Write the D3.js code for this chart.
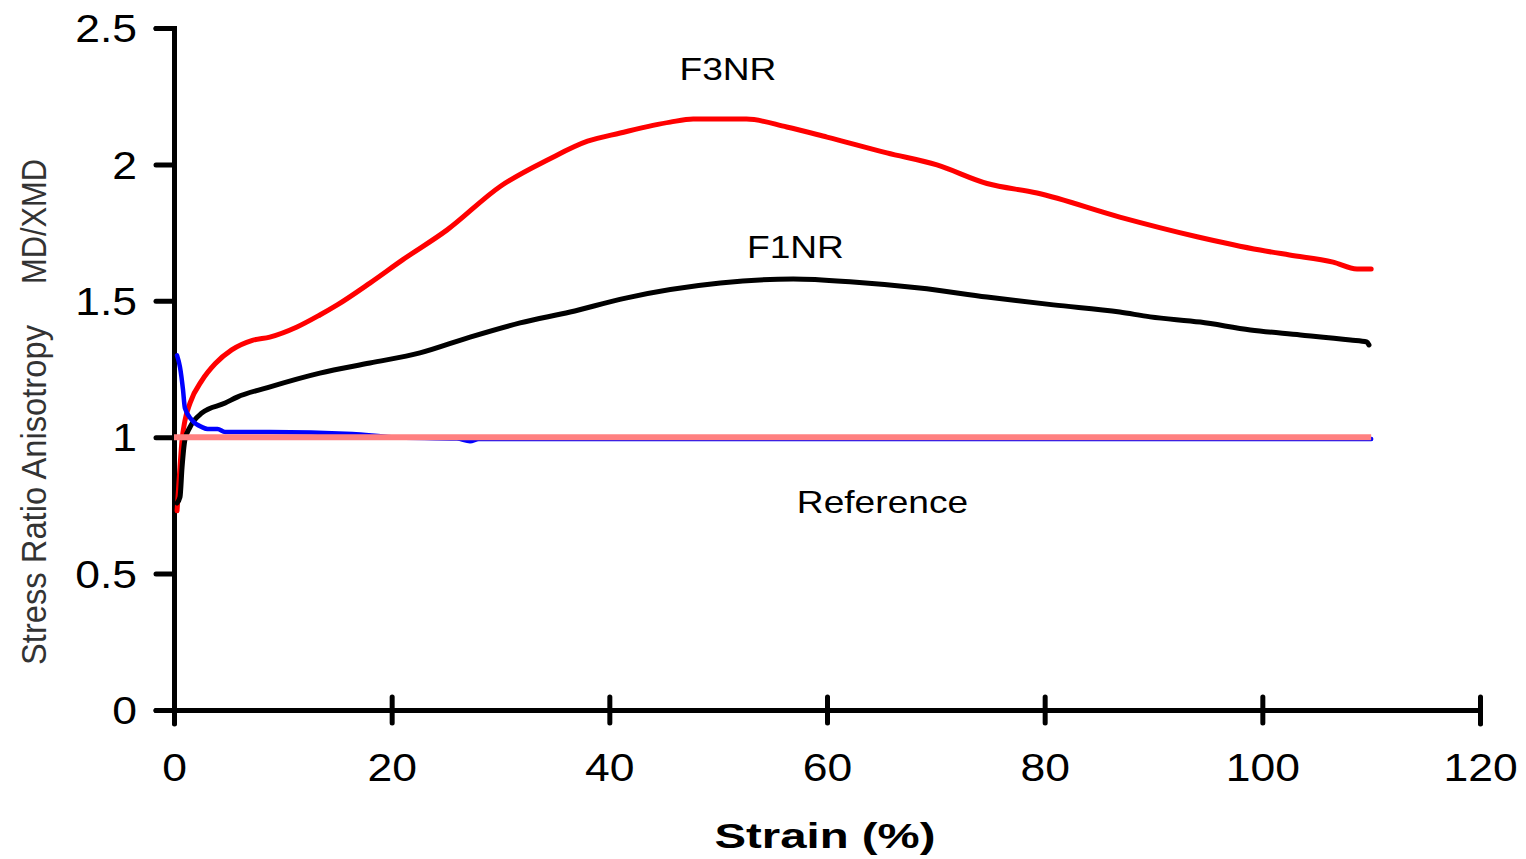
<!doctype html>
<html lang="en">
  <head>
    <meta charset="UTF-8" />
    <title>Stress Ratio Anisotropy</title>
    <script src="https://unpkg.com/d3@7.9.0/dist/d3.min.js"></script>
    <style>
      body {
        margin: 0;
        background: #fff;
        overflow: hidden;
      }
      svg text {
        font-family: 'Liberation Sans', Arial, sans-serif;
        fill: #000;
      }
      .tick text {
        font-size: 38px;
      }
      .axis path,
      .axis line {
        stroke: #000;
        stroke-width: 5;
        stroke-linecap: round;
      }
      .series {
        fill: none;
        stroke-linejoin: round;
      }
    </style>
  </head>
  <body>
    <svg width="1526" height="859"></svg>

    <script>
      // data: [strain %, MD/XMD]
      const f3nr = [
        [0.28, 0.73], [0.55, 0.89], [0.74, 0.99], [1.0, 1.06], [1.47, 1.125],
        [2.6, 1.21], [3.8, 1.27], [5.3, 1.32], [7.2, 1.355], [8.8, 1.367],
        [11.3, 1.404], [13.4, 1.448], [15.0, 1.485], [18.0, 1.565], [21.0, 1.65],
        [25.1, 1.76], [30, 1.92], [34.5, 2.02], [38, 2.085], [41.0, 2.115],
        [45.6, 2.155], [47.7, 2.166], [52.6, 2.166], [56.3, 2.137], [60.0, 2.1],
        [65.5, 2.042], [70.1, 1.998], [74.7, 1.93], [79.3, 1.895], [86.9, 1.807],
        [94, 1.735], [99.8, 1.686], [102.5, 1.668], [106.5, 1.642], [108.7, 1.617],
        [110, 1.617],
      ];
      const f1nr = [
        [0.28, 0.759], [0.55, 0.78], [0.74, 0.89], [1.0, 0.99], [1.47, 1.037],
        [2.57, 1.089], [4.7, 1.125], [5.8, 1.147], [8.6, 1.182], [13.4, 1.235],
        [18.0, 1.272], [22.6, 1.309], [27.2, 1.367], [31.8, 1.419], [36.4, 1.459],
        [41.5, 1.51], [50.2, 1.565], [56.9, 1.58], [62.4, 1.569], [68.5, 1.547],
        [74.7, 1.514], [80.8, 1.485], [86.9, 1.459], [89.7, 1.441], [94.3, 1.422],
        [98.9, 1.393], [103.5, 1.375], [108.1, 1.356], [109.6, 1.349], [109.8, 1.338],
      ];
      const blueSeries = [
        [0.28, 1.3], [0.55, 1.257], [0.83, 1.173], [1.0, 1.107], [1.65, 1.063],
        [2.57, 1.037], [3.1, 1.03], [4.0, 1.03], [4.7, 1.019], [8.8, 1.019],
        [16.4, 1.012], [20, 1.0], [26, 0.995], [27.2, 0.985], [28, 0.993],
        [60, 0.993], [110, 0.993],
      ];
      const reference = [[0, 1], [110, 1]];

      const xTicks = [0, 20, 40, 60, 80, 100, 120];
      const yTicks = [0, 0.5, 1, 1.5, 2, 2.5];

      const svg = d3.select('svg');

      const x = d3.scaleLinear().domain([0, 120]).range([174, 1480]);
      const y = d3.scaleLinear().domain([0, 2.5]).range([710, 28]);

      // stretch text horizontally, the source render is wider than Arial
      function stretch(sel, k) {
        sel.each(function () {
          const w = this.getComputedTextLength();
          d3.select(this)
            .attr('textLength', w * k)
            .attr('lengthAdjust', 'spacingAndGlyphs');
        });
      }

      // x axis
      const gx = svg
        .append('g')
        .attr('class', 'axis')
        .attr('transform', `translate(0,${y(0)})`)
        .call(
          d3.axisBottom(x).tickValues(xTicks).tickSizeOuter(0).tickSize(14).tickPadding(30),
        );
      gx.selectAll('.tick line').attr('y1', -13).attr('y2', 13);
      gx.selectAll('.tick text').call(stretch, 1.17);

      // y axis
      const gy = svg
        .append('g')
        .attr('class', 'axis')
        .attr('transform', `translate(${x(0)},0)`)
        .call(
          d3
            .axisLeft(y)
            .tickValues(yTicks)
            .tickFormat(d3.format('~g'))
            .tickSizeOuter(0)
            .tickSize(18)
            .tickPadding(19),
        );
      gy.selectAll('.tick text').attr('dy', '0.36em').call(stretch, 1.17);

      const line = d3
        .line()
        .curve(d3.curveMonotoneX)
        .x((d) => x(d[0]))
        .y((d) => y(d[1]));

      const series = [
        { data: f3nr, color: '#ff0000', w: 5, cap: 'round' },
        { data: f1nr, color: '#000000', w: 5, cap: 'round' },
        { data: blueSeries, color: '#0000ff', w: 4.5, cap: 'round' },
        { data: reference, color: '#ff8080', w: 6, cap: 'butt' },
      ];

      svg
        .selectAll('.series')
        .data(series)
        .enter()
        .append('path')
        .attr('class', 'series')
        .attr('d', (d) => line(d.data))
        .attr('stroke', (d) => d.color)
        .attr('stroke-width', (d) => d.w)
        .attr('stroke-linecap', (d) => d.cap);

      // curve labels
      const labels = [
        { text: 'F3NR', sx: 50.9, sy: 2.31 },
        { text: 'F1NR', sx: 57.1, sy: 1.657 },
        { text: 'Reference', sx: 65.1, sy: 0.722 },
      ];
      svg
        .selectAll('.lbl')
        .data(labels)
        .enter()
        .append('text')
        .attr('class', 'lbl')
        .attr('x', (d) => x(d.sx))
        .attr('y', (d) => y(d.sy))
        .attr('text-anchor', 'middle')
        .style('font-size', '32px')
        .text((d) => d.text)
        .call(stretch, 1.16);

      // axis titles
      svg
        .append('text')
        .attr('x', 825)
        .attr('y', 848)
        .attr('text-anchor', 'middle')
        .style('font-size', '35px')
        .style('font-weight', 'bold')
        .attr('textLength', 221)
        .attr('lengthAdjust', 'spacingAndGlyphs')
        .text('Strain (%)');

      const yTitle = svg
        .append('g')
        .attr('transform', 'translate(46,0) rotate(-90)')
        .style('font-size', '35px');
      yTitle
        .append('text')
        .attr('x', -665)
        .attr('y', 0)
        .style('fill', '#333')
        .attr('textLength', 340)
        .attr('lengthAdjust', 'spacingAndGlyphs')
        .text('Stress Ratio Anisotropy');
      yTitle
        .append('text')
        .attr('x', -284)
        .attr('y', 0)
        .style('fill', '#333')
        .attr('textLength', 125)
        .attr('lengthAdjust', 'spacingAndGlyphs')
        .text('MD/XMD');
    </script>
  </body>
</html>
